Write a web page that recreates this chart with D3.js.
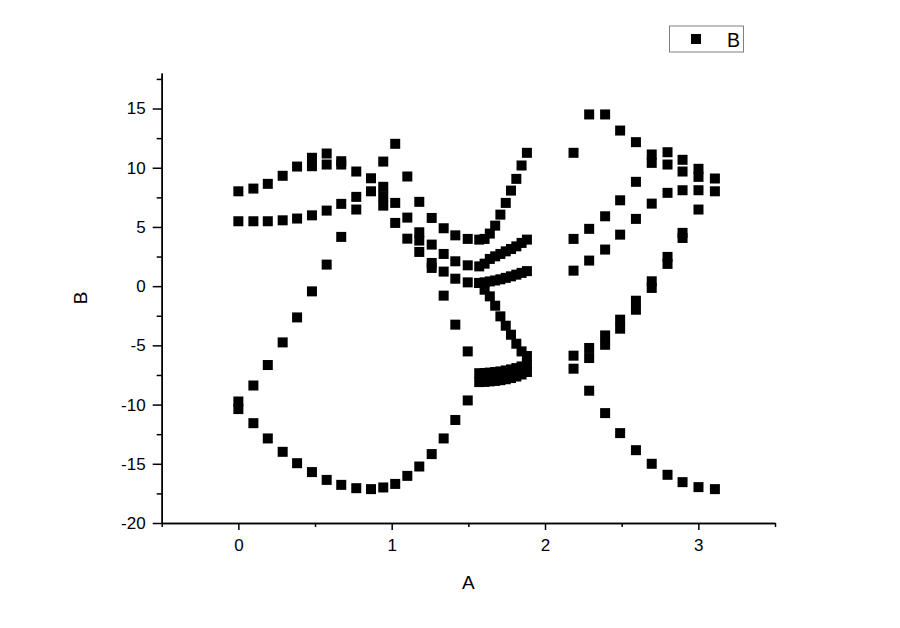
<!DOCTYPE html>
<html>
<head>
<meta charset="utf-8">
<script src="https://cdn.jsdelivr.net/npm/d3@7/dist/d3.min.js"></script>
<style>
  html, body { margin: 0; padding: 0; background: #fff; }
  svg { display: block; }
  text { font-family: "Liberation Sans", Arial, sans-serif; fill: #000; }
</style>
</head>
<body>
<svg id="chart" width="900" height="628"></svg>
<script>
// ---- Data (column A = x, column B = values at that x) ----
const kA = [0, 0.098, 0.192, 0.289, 0.383, 0.480, 0.576, 0.671, 0.769, 0.865,
            0.945, 1.023, 1.102, 1.180, 1.261, 1.339, 1.415, 1.496,
            1.571, 1.606, 1.640, 1.675, 1.709, 1.744, 1.778, 1.813, 1.847, 1.882,
            2.186, 2.288, 2.392, 2.490, 2.593, 2.696, 2.799, 2.897, 3.001, 3.108];
const valuesB = [
  [8.01, 5.48, -9.74, -10.38],
  [8.24, 5.48, -8.39, -11.57],
  [8.64, 5.48, -6.66, -12.86],
  [9.32, 5.56, -4.75, -13.99],
  [10.10, 5.71, -2.64, -14.95],
  [10.84, 10.13, 5.98, -0.44, -15.70],
  [11.20, 10.27, 6.38, 1.82, -16.36],
  [10.55, 10.27, 6.95, 4.16, -16.78],
  [9.68, 7.54, 6.47, -17.06],
  [9.11, 8.01, -17.14],
  [10.52, 8.39, 7.59, 6.80, -17.00],
  [12.02, 7.03, 5.34, -16.70],
  [9.26, 5.79, 4.01, -16.02],
  [7.12, 4.55, 3.85, 2.89, -15.23],
  [5.76, 3.51, 1.96, 1.54, -14.18],
  [4.89, 2.72, 1.23, -0.80, -12.86],
  [4.29, 2.10, 0.63, -3.25, -11.30],
  [3.99, 1.76, 0.32, -5.51, -9.65],
  [3.93, 1.67, 0.27, 0.27, -7.35, -8.10],
  [3.99, 1.90, 0.32, -0.30, -7.33, -8.08],
  [4.44, 2.30, 0.40, -0.86, -7.30, -8.04],
  [5.11, 2.52, 0.48, -1.65, -7.25, -8.00],
  [6.04, 2.72, 0.58, -2.55, -7.20, -7.94],
  [7.03, 2.94, 0.70, -3.34, -7.12, -7.86],
  [8.07, 3.14, 0.83, -4.10, -7.03, -7.76],
  [9.06, 3.36, 0.97, -4.86, -6.92, -7.63],
  [10.19, 3.65, 1.12, -5.51, -6.78, -7.46],
  [11.26, 3.93, 1.27, -5.90, -6.60, -7.25],
  [11.26, 3.99, 1.31, -5.87, -6.97],
  [14.50, 4.84, 2.16, -5.22, -6.07, -8.83],
  [14.50, 5.90, 3.09, -4.16, -4.95, -10.72],
  [13.14, 7.25, 4.35, -2.83, -3.59, -12.41],
  [12.16, 8.81, 5.68, -1.23, -1.99, -13.85],
  [11.12, 10.41, 6.97, 0.41, -0.15, -15.00],
  [11.31, 10.27, 7.88, 2.47, 1.88, -15.93],
  [10.67, 9.68, 8.10, 4.50, 4.07, -16.55],
  [9.91, 9.23, 8.10, 6.47, -16.97],
  [9.09, 8.01, -17.14]
];
const xMajorTicks = [0, 1, 2, 3];
const xMinorTicks = [-0.5, 0.5, 1.5, 2.5, 3.5];
const yMajorTicks = [-20, -15, -10, -5, 0, 5, 10, 15];
const yMinorTicks = [-17.5, -12.5, -7.5, -2.5, 2.5, 7.5, 12.5, 17.5];
const seriesName = "B";
const xTitle = "A";
const yTitle = "B";

(function () {
  // ---- Build points ----
  const points = [];
  kA.forEach((a, i) => valuesB[i].forEach(b => points.push({a, b})));

  // ---- Layout ----
  const svg = d3.select("#chart");
  const pl = 161.7, pr = 775, pt = 73, pb = 523;
  const x = d3.scaleLinear().domain([-0.5, 3.5]).range([pl, pr]);
  const y = d3.scaleLinear().domain([-20, 18]).range([pb, pt]);
  const fmt = d => String(d);

  // Points
  const S = 10;
  svg.append("g").selectAll("rect").data(points).join("rect")
    .attr("x", d => x(d.a) - S / 2)
    .attr("y", d => y(d.b) - S / 2)
    .attr("width", S).attr("height", S)
    .attr("fill", "#000");

  // Axes
  function styleAxis(g) {
    g.select(".domain").attr("stroke", "#000").attr("stroke-width", 1.5);
    g.selectAll(".tick line").attr("stroke", "#000").attr("stroke-width", 1.5);
    g.selectAll(".tick text").attr("font-size", "17px")
      .attr("font-family", "'Liberation Sans', Arial, sans-serif").attr("fill", "#000");
  }
  const gx = svg.append("g").attr("transform", `translate(0,${pb})`)
    .call(d3.axisBottom(x).tickValues(xMajorTicks).tickFormat(fmt)
          .tickSize(7).tickSizeOuter(0).tickPadding(9));
  styleAxis(gx);
  const gxm = svg.append("g").attr("transform", `translate(0,${pb})`)
    .call(d3.axisBottom(x).tickValues(xMinorTicks).tickFormat("").tickSize(4).tickSizeOuter(0));
  styleAxis(gxm);

  const gy = svg.append("g").attr("transform", `translate(${pl},0)`)
    .call(d3.axisLeft(y).tickValues(yMajorTicks).tickFormat(fmt)
          .tickSize(9).tickSizeOuter(0).tickPadding(7));
  styleAxis(gy);
  const gym = svg.append("g").attr("transform", `translate(${pl},0)`)
    .call(d3.axisLeft(y).tickValues(yMinorTicks).tickFormat("").tickSize(5).tickSizeOuter(0));
  styleAxis(gym);

  // Axis titles
  svg.append("text").attr("x", (pl + pr) / 2).attr("y", 589)
    .attr("text-anchor", "middle").attr("font-size", "19px").text(xTitle);
  svg.append("text")
    .attr("transform", `translate(87,${(pt + pb) / 2}) rotate(-90)`)
    .attr("text-anchor", "middle").attr("font-size", "19px").text(yTitle);

  // Legend
  const lg = svg.append("g");
  lg.append("rect").attr("x", 669.5).attr("y", 26).attr("width", 74).attr("height", 26)
    .attr("fill", "#fff").attr("stroke", "#808080").attr("stroke-width", 1);
  lg.append("rect").attr("x", 696 - S / 2).attr("y", 39 - S / 2).attr("width", S).attr("height", S)
    .attr("fill", "#000");
  lg.append("text").attr("x", 727).attr("y", 46.5).attr("font-size", "19.5px").text(seriesName);
})();
</script>
</body>
</html>
